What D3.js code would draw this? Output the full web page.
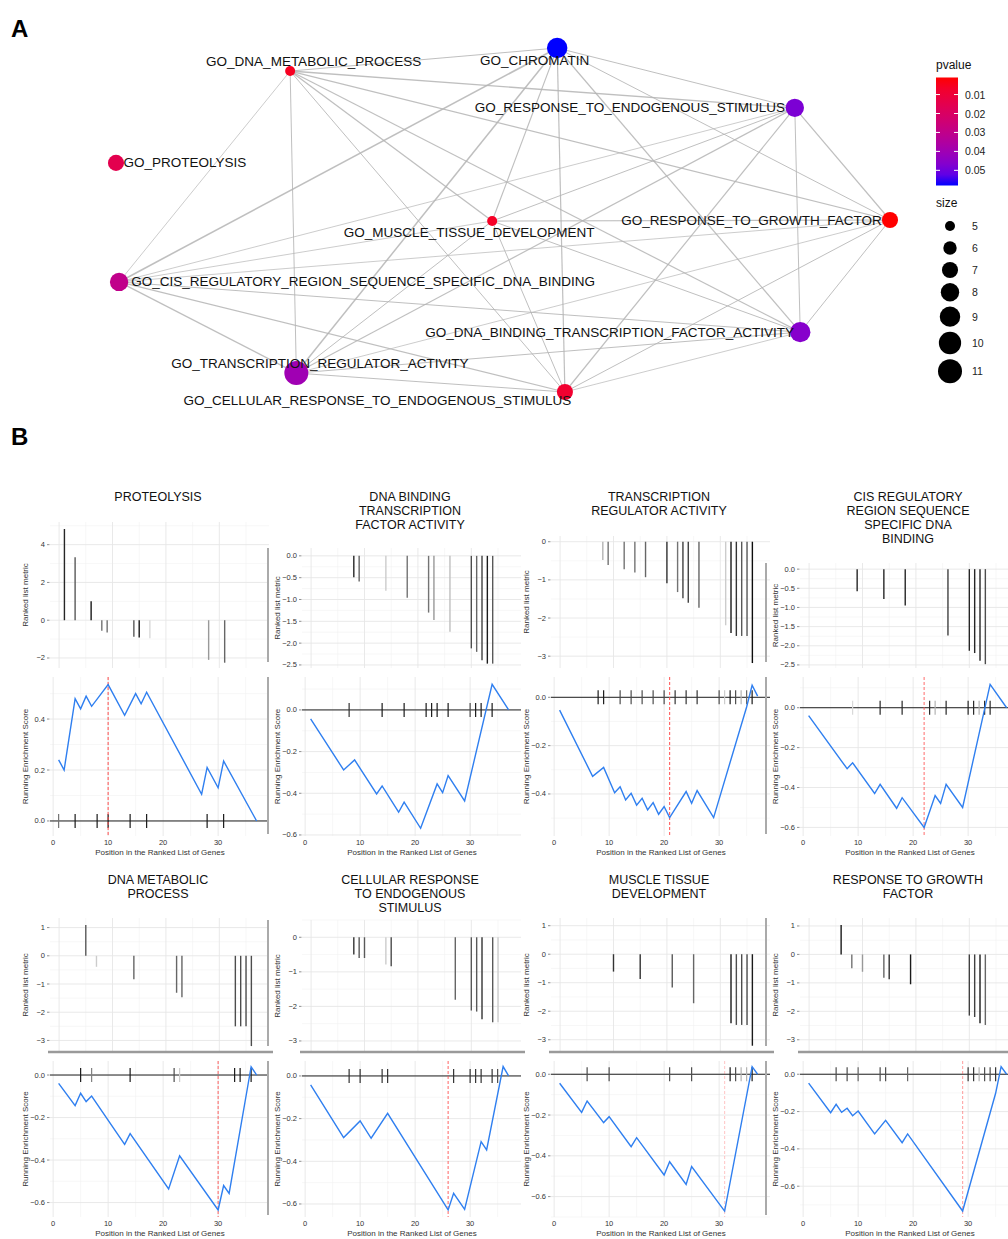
<!DOCTYPE html>
<html><head><meta charset="utf-8">
<script src="https://cdn.jsdelivr.net/npm/d3@7"></script>
<style>body{margin:0;background:#fff}svg{display:block}text{font-family:"Liberation Sans",Arial,Helvetica,sans-serif}</style>
</head><body><svg id="c" width="1008" height="1239"></svg>
<script>
// ---------------- Panel A data ----------------
const nodeNames = ["GO_DNA_METABOLIC_PROCESS","GO_CHROMATIN","GO_RESPONSE_TO_ENDOGENOUS_STIMULUS","GO_PROTEOLYSIS","GO_MUSCLE_TISSUE_DEVELOPMENT","GO_RESPONSE_TO_GROWTH_FACTOR","GO_CIS_REGULATORY_REGION_SEQUENCE_SPECIFIC_DNA_BINDING","GO_DNA_BINDING_TRANSCRIPTION_FACTOR_ACTIVITY","GO_TRANSCRIPTION_REGULATOR_ACTIVITY","GO_CELLULAR_RESPONSE_TO_ENDOGENOUS_STIMULUS"];
const nodeLayoutX = [0.225,0.570,0.877,0.000,0.486,1.000,0.004,0.884,0.233,0.580];
const nodeLayoutY = [0.067,0.000,0.174,0.334,0.503,0.500,0.680,0.826,0.945,1.000];
const nodePvalue = [0.005,0.058,0.048,0.015,0.006,0.001,0.030,0.046,0.040,0.008];
const nodeSize = [5,9,8,7,5,7,8,9,11,7];
const labelDX = [23.5,-22.5,-165,69,-23,-138.5,244,-190.5,23.5,-187.5];
const labelDY = [-10,12,0,0,11,0,0,0,-10,8];
const edgeSource = [0,0,0,0,0,0,0,0, 1,1,1,1,1,1,1, 2,2,2,2,2,2, 5,5,5,5,5, 7,7,7,7, 9,9,9, 8,8,6];
const edgeTarget = [1,2,5,6,8,4,7,9, 2,5,6,8,4,9,7, 5,7,4,6,8,9, 4,7,6,9,8, 6,8,9,4, 6,8,4, 6,4,4];
const edgeWeight = [1.0,1.4,1.2,0.8,1.0,1.3,1.2,1.0, 1.0,1.0,1.6,1.5,1.1,1.2,1.2, 1.2,1.0,1.0,0.8,1.2,1.2, 1.2,1.0,0.8,1.0,0.8, 1.0,1.0,0.8,1.0, 1.2,1.0,1.0, 1.3,1.0,0.8];
const pvalueDomain = [0.001,0.058];
const pvalueTicks = [0.01,0.02,0.03,0.04,0.05];
const sizeTicks = [5,6,7,8,9,10,11];

// ---------------- Panel B data ----------------
const panelTitles = [["PROTEOLYSIS"],["DNA BINDING","TRANSCRIPTION","FACTOR ACTIVITY"],["TRANSCRIPTION","REGULATOR ACTIVITY"],["CIS REGULATORY","REGION SEQUENCE","SPECIFIC DNA","BINDING"],["DNA METABOLIC","PROCESS"],["CELLULAR RESPONSE","TO ENDOGENOUS","STIMULUS"],["MUSCLE TISSUE","DEVELOPMENT"],["RESPONSE TO GROWTH","FACTOR"]];

const proteolysisRankX = [1,3,6,8,9,14,15,17,28,31];
const proteolysisRankY = [4.83,3.33,1.0,-0.56,-0.65,-0.88,-0.92,-0.96,-2.1,-2.25];
const proteolysisRankShade = [0.15,0.35,0.1,0.45,0.45,0.35,0.1,0.85,0.6,0.4];
const proteolysisEsX = [1,2,4,5,6,7,10,13,15,16,17,27,28,30,31,37];
const proteolysisEsY = [0.24,0.20,0.48,0.44,0.49,0.45,0.535,0.415,0.50,0.46,0.505,0.105,0.21,0.13,0.235,0];
const proteolysisHits = [1,4,8,10,14,17,28,31];
const proteolysisHitShade = [0.45,0.1,0.1,0.1,0.1,0.1,0.1,0.1];

const dnaBindingRankX = [8,9,14,18,22,23,26,30,31,32,33,34];
const dnaBindingRankY = [-0.49,-0.59,-0.80,-0.96,-1.30,-1.47,-1.74,-2.12,-2.2,-2.39,-2.47,-2.47];
const dnaBindingRankShade = [0.15,0.4,0.8,0.45,0.45,0.6,0.75,0.3,0.4,0.25,0.1,0.35];
const dnaBindingEsX = [1,7,9,13,14,17,18,21,24,25,26,29,34,37];
const dnaBindingEsY = [-0.043,-0.288,-0.24,-0.403,-0.365,-0.491,-0.443,-0.568,-0.355,-0.397,-0.315,-0.437,0.123,0.0];
const dnaBindingHits = [8,14,18,22,23,24,26,30,31,32,34];
const dnaBindingHitShade = [0.2,0.1,0.1,0.1,0.1,0.1,0.1,0.3,0.1,0.1,0.1];

const transRegRankX = [8,9,12,14,16,20,22,23,24,26,31,32,33,34,35,36];
const transRegRankY = [-0.48,-0.61,-0.72,-0.81,-0.93,-1.09,-1.32,-1.48,-1.60,-1.73,-2.19,-2.39,-2.47,-2.47,-2.47,-3.18];
const transRegRankShade = [0.7,0.45,0.45,0.45,0.4,0.2,0.45,0.25,0.25,0.4,0.8,0.1,0.2,0.35,0.35,0.05];
const transRegEsX = [1,7,9,11,12,13,14,15,16,17,18,19,20,21,24,25,26,29,35,36,37];
const transRegEsY = [-0.053,-0.327,-0.29,-0.395,-0.37,-0.425,-0.397,-0.446,-0.418,-0.466,-0.436,-0.484,-0.452,-0.498,-0.39,-0.439,-0.386,-0.498,-0.04,0.05,0.005];
const transRegHits = [8,9,12,14,16,18,20,22,24,26,30,31,32,33,34,35,36];
const transRegHitShade = [0.1,0.1,0.3,0.3,0.3,0.3,0.3,0.2,0.2,0.2,0.3,0.8,0.1,0.3,0.7,0.4,0.1];

const cisRankX = [9,14,18,26,30,31,32,33];
const cisRankY = [-0.58,-0.78,-0.95,-1.73,-2.13,-2.19,-2.39,-2.48];
const cisRankShade = [0.15,0.15,0.15,0.25,0.15,0.15,0.15,0.3];
const cisEsX = [1,8,9,13,14,17,18,22,24,25,26,29,34,37];
const cisEsY = [-0.04,-0.306,-0.276,-0.43,-0.384,-0.504,-0.451,-0.60,-0.44,-0.48,-0.384,-0.50,0.117,0];
const cisHits = [9,14,18,23,24,26,30,31,32,33,34];
const cisHitShade = [0.85,0.15,0.15,0.15,0.7,0.15,0.15,0.15,0.7,0.15,0.15];

const dnaMetRankX = [5,7,14,22,23,33,34,35,36];
const dnaMetRankY = [1.09,-0.39,-0.83,-1.31,-1.47,-2.5,-2.5,-2.5,-3.2];
const dnaMetRankShade = [0.35,0.8,0.4,0.4,0.4,0.3,0.3,0.3,0.3];
const dnaMetEsX = [1,4,5,6,7,13,14,21,23,30,31,32,36,37];
const dnaMetEsY = [-0.039,-0.144,-0.086,-0.125,-0.099,-0.326,-0.276,-0.536,-0.38,-0.635,-0.52,-0.557,0.039,0];
const dnaMetHits = [5,7,14,22,23,33,34,36];
const dnaMetHitShade = [0.1,0.5,0.1,0.3,0.8,0.1,0.1,0.1];

const cellRespRankX = [8,9,10,14,15,27,30,31,32,34,35];
const cellRespRankY = [-0.5,-0.6,-0.6,-0.79,-0.84,-1.81,-2.12,-2.15,-2.37,-2.46,-2.46];
const cellRespRankShade = [0.2,0.35,0.35,0.8,0.3,0.4,0.35,0.35,0.2,0.35,0.8];
const cellRespEsX = [1,7,10,12,15,26,27,29,32,33,36,37];
const cellRespEsY = [-0.042,-0.289,-0.211,-0.292,-0.175,-0.628,-0.55,-0.625,-0.308,-0.347,0.044,0];
const cellRespHits = [8,10,14,15,27,30,31,32,34,35];
const cellRespHitShade = [0.2,0.2,0.2,0.2,0.2,0.2,0.2,0.2,0.2,0.3];

const muscleRankX = [10,15,21,25,32,33,34,35,36];
const muscleRankY = [-0.61,-0.87,-1.17,-1.72,-2.42,-2.48,-2.48,-2.48,-3.21];
const muscleRankShade = [0.2,0.2,0.35,0.4,0.1,0.3,0.3,0.3,0.1];
const muscleEsX = [1,5,6,9,10,14,15,20,21,24,25,31,36,37];
const muscleEsY = [-0.044,-0.187,-0.131,-0.237,-0.208,-0.355,-0.311,-0.494,-0.429,-0.54,-0.453,-0.671,0.037,0];
const muscleHits = [6,10,21,25,32,33,34,35,36];
const muscleHitShade = [0.3,0.3,0.3,0.3,0.1,0.3,0.7,0.7,0.1];

const growthRankX = [6,8,10,14,15,19,30,31,32,33];
const growthRankY = [1.03,-0.49,-0.61,-0.82,-0.87,-1.05,-2.15,-2.2,-2.42,-2.48];
const growthRankShade = [0.1,0.45,0.6,0.4,0.2,0.1,0.25,0.25,0.1,0.4];
const growthEsX = [1,5,6,7,8,9,10,13,15,18,19,29,35,36,37];
const growthEsY = [-0.048,-0.206,-0.161,-0.204,-0.182,-0.222,-0.197,-0.32,-0.247,-0.367,-0.32,-0.733,-0.102,0.041,0];
const growthHits = [6,8,10,14,15,19,30,31,32,33,34,35];
const growthHitShade = [0.3,0.3,0.4,0.3,0.3,0.4,0.2,0.2,0.7,0.3,0.3,0.2];

const peakPositions = [10,null,21,22,30,26,31,29];
const rankTicks = [[-2,0,2,4],[-2.5,-2,-1.5,-1,-0.5,0],[-3,-2,-1,0],[-2.5,-2,-1.5,-1,-0.5,0],[-3,-2,-1,0,1],[-3,-2,-1,0],[-3,-2,-1,0,1],[-3,-2,-1,0,1]];
const rankDomains = [[-2.53,5.2],[-2.57,0.18],[-3.31,0.15],[-2.58,0.16],[-3.41,1.34],[-3.32,0.5],[-3.43,1.27],[-3.43,1.28]];
const esTicks = [[0,0.2,0.4],[-0.6,-0.4,-0.2,0],[-0.4,-0.2,0],[-0.6,-0.4,-0.2,0],[-0.6,-0.4,-0.2,0],[-0.6,-0.4,-0.2,0],[-0.6,-0.4,-0.2,0],[-0.6,-0.4,-0.2,0]];
const esDomains = [[-0.059,0.565],[-0.605,0.158],[-0.574,0.084],[-0.643,0.154],[-0.668,0.066],[-0.661,0.07],[-0.70,0.065],[-0.765,0.071]];
const positionTicks = [0,10,20,30];

// ---------------- Layout (styles) ----------------
const svg = d3.select("#c");

svg.append("text").attr("x",11).attr("y",37).attr("font-size",24).attr("font-weight","bold").text("A");
svg.append("text").attr("x",11).attr("y",445).attr("font-size",24).attr("font-weight","bold").text("B");

// ---- Network ----
const xN = d3.scaleLinear().domain([0,1]).range([116,890]);
const yN = d3.scaleLinear().domain([0,1]).range([48,392]);
const colorP = d3.scaleLinear().domain(pvalueDomain).range(["#ff0000","#0000ff"]).interpolate(d3.interpolateLab);
const areaS = d3.scaleLinear().domain([5,11]).range([25,144]);
const rS = s => Math.sqrt(areaS(s));

const gE = svg.append("g");
edgeSource.forEach((s,i)=>{
  const t = edgeTarget[i];
  gE.append("line")
    .attr("x1",xN(nodeLayoutX[s])).attr("y1",yN(nodeLayoutY[s]))
    .attr("x2",xN(nodeLayoutX[t])).attr("y2",yN(nodeLayoutY[t]))
    .attr("stroke","#b4b4b4").attr("stroke-opacity",0.85).attr("stroke-width",edgeWeight[i]);
});
const gNd = svg.append("g");
nodeNames.forEach((n,i)=>{
  gNd.append("circle").attr("cx",xN(nodeLayoutX[i])).attr("cy",yN(nodeLayoutY[i]))
    .attr("r",rS(nodeSize[i])).attr("fill",colorP(nodePvalue[i]));
});
const gL = svg.append("g");
nodeNames.forEach((n,i)=>{
  gL.append("text").attr("x",xN(nodeLayoutX[i])+labelDX[i]).attr("y",yN(nodeLayoutY[i])+labelDY[i])
    .attr("text-anchor","middle").attr("dominant-baseline","central")
    .attr("font-size",13.5).attr("fill","#111").text(n);
});

// ---- Legend ----
const lg = svg.append("g");
lg.append("text").attr("x",936).attr("y",69).attr("font-size",12).attr("fill","#111").text("pvalue");
const defs = svg.append("defs");
const grad = defs.append("linearGradient").attr("id","pg").attr("x1",0).attr("x2",0).attr("y1",0).attr("y2",1);
d3.range(0,1.0001,0.1).forEach(f=>{
  grad.append("stop").attr("offset",f).attr("stop-color",colorP(pvalueDomain[0]+f*(pvalueDomain[1]-pvalueDomain[0])));
});
const cbY = d3.scaleLinear().domain(pvalueDomain).range([77.5,185.5]);
lg.append("rect").attr("x",936).attr("y",cbY.range()[0]).attr("width",22).attr("height",cbY.range()[1]-cbY.range()[0]).attr("fill","url(#pg)");
pvalueTicks.forEach(p=>{
  const y = cbY(p);
  lg.append("line").attr("x1",936).attr("x2",940).attr("y1",y).attr("y2",y).attr("stroke","#fff").attr("stroke-width",1);
  lg.append("line").attr("x1",954).attr("x2",958).attr("y1",y).attr("y2",y).attr("stroke","#fff").attr("stroke-width",1);
  lg.append("text").attr("x",965).attr("y",y).attr("dominant-baseline","central").attr("font-size",10.5).attr("fill","#222").text(p.toFixed(2));
});
lg.append("text").attr("x",936).attr("y",207).attr("font-size",12).attr("fill","#111").text("size");
let ly = 226;
sizeTicks.forEach((s,i)=>{
  if(i>0) ly += Math.max(22, rS(s)+rS(sizeTicks[i-1])+5);
  lg.append("circle").attr("cx",950).attr("cy",ly).attr("r",rS(s)).attr("fill","#000");
  lg.append("text").attr("x",972).attr("y",ly).attr("dominant-baseline","central").attr("font-size",10.5).attr("fill","#222").text(s);
});

// ---- GSEA panels ----
const panels = [
  {rx:proteolysisRankX, ry:proteolysisRankY, rs:proteolysisRankShade, ex:proteolysisEsX, ey:proteolysisEsY, h:proteolysisHits, hs:proteolysisHitShade},
  {rx:dnaBindingRankX, ry:dnaBindingRankY, rs:dnaBindingRankShade, ex:dnaBindingEsX, ey:dnaBindingEsY, h:dnaBindingHits, hs:dnaBindingHitShade},
  {rx:transRegRankX, ry:transRegRankY, rs:transRegRankShade, ex:transRegEsX, ey:transRegEsY, h:transRegHits, hs:transRegHitShade},
  {rx:cisRankX, ry:cisRankY, rs:cisRankShade, ex:cisEsX, ey:cisEsY, h:cisHits, hs:cisHitShade},
  {rx:dnaMetRankX, ry:dnaMetRankY, rs:dnaMetRankShade, ex:dnaMetEsX, ey:dnaMetEsY, h:dnaMetHits, hs:dnaMetHitShade},
  {rx:cellRespRankX, ry:cellRespRankY, rs:cellRespRankShade, ex:cellRespEsX, ey:cellRespEsY, h:cellRespHits, hs:cellRespHitShade},
  {rx:muscleRankX, ry:muscleRankY, rs:muscleRankShade, ex:muscleEsX, ey:muscleEsY, h:muscleHits, hs:muscleHitShade},
  {rx:growthRankX, ry:growthRankY, rs:growthRankShade, ex:growthEsX, ey:growthEsY, h:growthHits, hs:growthHitShade}
];
const colL = [50,302,551,800];
const rows = [
  {uBot:668, lTop:677, lBot:836, titleY:497},
  {uBot:1052, lTop:1061, lBot:1217, titleY:880}
];
const upperTops = [522,548,536,563,918,920,918,918];
const peakOpacity = [0.9,0,0.9,0.75,0.8,0.8,0.3,0.5];
const W = 219;
const shade = v => d3.interpolateRgb("#000","#fff")(v);
const fmt1 = d3.format(".1f");

panels.forEach((p,i)=>{
  const col = i%4, row = rows[Math.floor(i/4)];
  const L = colL[col];
  const g = svg.append("g");
  panelTitles[i].forEach((t,k)=>{
    g.append("text").attr("x",L+108).attr("y",row.titleY+k*14).attr("text-anchor","middle")
      .attr("dominant-baseline","central").attr("font-size",12.5).attr("fill","#111").text(t);
  });
  // ---- upper (ranked list metric) ----
  const uTop = upperTops[i];
  const xu = d3.scaleLinear().domain([-1.7,39.3]).range([L,L+W]);
  const yu = d3.scaleLinear().domain(rankDomains[i]).range([row.uBot,uTop]);
  const rt = rankTicks[i];
  const step = rt[1]-rt[0];
  const minorY = rt.map(v=>v-step/2).concat([rt[rt.length-1]+step/2]).filter(v=>v>=rankDomains[i][0]&&v<=rankDomains[i][1]);
  minorY.forEach(v=>g.append("line").attr("x1",L).attr("x2",L+W).attr("y1",yu(v)).attr("y2",yu(v)).attr("stroke","#f2f2f2").attr("stroke-width",0.6));
  [5,15,25,35].forEach(v=>g.append("line").attr("x1",xu(v)).attr("x2",xu(v)).attr("y1",uTop).attr("y2",row.uBot).attr("stroke","#f2f2f2").attr("stroke-width",0.6));
  rt.forEach(v=>g.append("line").attr("x1",L).attr("x2",L+W).attr("y1",yu(v)).attr("y2",yu(v)).attr("stroke","#e6e6e6").attr("stroke-width",0.9));
  positionTicks.forEach(v=>g.append("line").attr("x1",xu(v)).attr("x2",xu(v)).attr("y1",uTop).attr("y2",row.uBot).attr("stroke","#e6e6e6").attr("stroke-width",0.9));
  p.rx.forEach((x,k)=>{
    g.append("line").attr("x1",xu(x)).attr("x2",xu(x)).attr("y1",yu(0)).attr("y2",yu(p.ry[k]))
      .attr("stroke",shade(p.rs[k])).attr("stroke-width",1.4);
  });
  rt.forEach(v=>{
    g.append("line").attr("x1",L-3).attr("x2",L-0.5).attr("y1",yu(v)).attr("y2",yu(v)).attr("stroke","#444").attr("stroke-width",0.6);
    g.append("text").attr("x",L-5).attr("y",yu(v)).attr("text-anchor","end").attr("dominant-baseline","central")
      .attr("font-size",7.5).attr("fill","#333").text(Number.isInteger(step)?d3.format("d")(v):fmt1(v));
  });
  g.append("text").attr("transform",`translate(${L-22},${(uTop+row.uBot)/2}) rotate(-90)`).attr("text-anchor","middle")
    .attr("font-size",8).attr("fill","#333").text("Ranked list metric");
  if(i>=4){
    g.append("line").attr("x1",L-2).attr("x2",L+W+4).attr("y1",row.uBot).attr("y2",row.uBot).attr("stroke","#9a9a9a").attr("stroke-width",2.5);
  }
  // ---- lower (running enrichment score) ----
  const xl = d3.scaleLinear().domain([-0.75,39.25]).range([L-1,L+W]);
  const yl = d3.scaleLinear().domain(esDomains[i]).range([row.lBot,row.lTop]);
  const et = esTicks[i];
  const minorE = et.map(v=>v-0.1).concat([et[et.length-1]+0.1]).filter(v=>v>=esDomains[i][0]&&v<=esDomains[i][1]);
  minorE.forEach(v=>g.append("line").attr("x1",L).attr("x2",L+W).attr("y1",yl(v)).attr("y2",yl(v)).attr("stroke","#f2f2f2").attr("stroke-width",0.6));
  [5,15,25,35].forEach(v=>g.append("line").attr("x1",xl(v)).attr("x2",xl(v)).attr("y1",row.lTop).attr("y2",row.lBot).attr("stroke","#f2f2f2").attr("stroke-width",0.6));
  et.forEach(v=>g.append("line").attr("x1",L).attr("x2",L+W).attr("y1",yl(v)).attr("y2",yl(v)).attr("stroke","#e6e6e6").attr("stroke-width",0.9));
  positionTicks.forEach(v=>g.append("line").attr("x1",xl(v)).attr("x2",xl(v)).attr("y1",row.lTop).attr("y2",row.lBot).attr("stroke","#e6e6e6").attr("stroke-width",0.9));
  g.append("line").attr("x1",L).attr("x2",L+W).attr("y1",yl(0)).attr("y2",yl(0)).attr("stroke","#222").attr("stroke-width",1);
  p.h.forEach((x,k)=>{
    g.append("line").attr("x1",xl(x)).attr("x2",xl(x)).attr("y1",yl(0)-7).attr("y2",yl(0)+7)
      .attr("stroke",shade(p.hs[k])).attr("stroke-width",1.2);
  });
  if(peakPositions[i]!==null){
    g.append("line").attr("x1",xl(peakPositions[i])).attr("x2",xl(peakPositions[i])).attr("y1",row.lTop).attr("y2",row.lBot)
      .attr("stroke","#ff4d4d").attr("stroke-opacity",peakOpacity[i]).attr("stroke-width",1.1).attr("stroke-dasharray","3,2");
  }
  const pts = p.ex.map((x,k)=>[x,p.ey[k]]);
  g.append("path").attr("d",d3.line().x(d=>xl(d[0])).y(d=>yl(d[1]))(pts))
    .attr("fill","none").attr("stroke","#2f7ff0").attr("stroke-width",1.4);
  et.forEach(v=>{
    g.append("line").attr("x1",L-3).attr("x2",L-0.5).attr("y1",yl(v)).attr("y2",yl(v)).attr("stroke","#444").attr("stroke-width",0.6);
    g.append("text").attr("x",L-5).attr("y",yl(v)).attr("text-anchor","end").attr("dominant-baseline","central")
      .attr("font-size",7.5).attr("fill","#333").text(fmt1(v));
  });
  g.append("text").attr("transform",`translate(${L-22},${(row.lTop+row.lBot)/2}) rotate(-90)`).attr("text-anchor","middle")
    .attr("font-size",8).attr("fill","#333").text("Running Enrichment Score");
  positionTicks.forEach(v=>{
    g.append("text").attr("x",xl(v)).attr("y",row.lBot+6).attr("text-anchor","middle").attr("dominant-baseline","central")
      .attr("font-size",7.5).attr("fill","#333").text(v);
  });
  g.append("text").attr("x",L+110).attr("y",row.lBot+16).attr("text-anchor","middle").attr("dominant-baseline","central")
    .attr("font-size",8).attr("fill","#333").text("Position in the Ranked List of Genes");
  if(col===1||col===3){
    g.append("line").attr("x1",L-34).attr("x2",L-34).attr("y1",uTop).attr("y2",row.uBot-6).attr("stroke","#aaa").attr("stroke-width",2);
    g.append("line").attr("x1",L-34).attr("x2",L-34).attr("y1",row.lTop).attr("y2",row.lBot-2).attr("stroke","#aaa").attr("stroke-width",2);
  }
});
</script>
</body></html>
